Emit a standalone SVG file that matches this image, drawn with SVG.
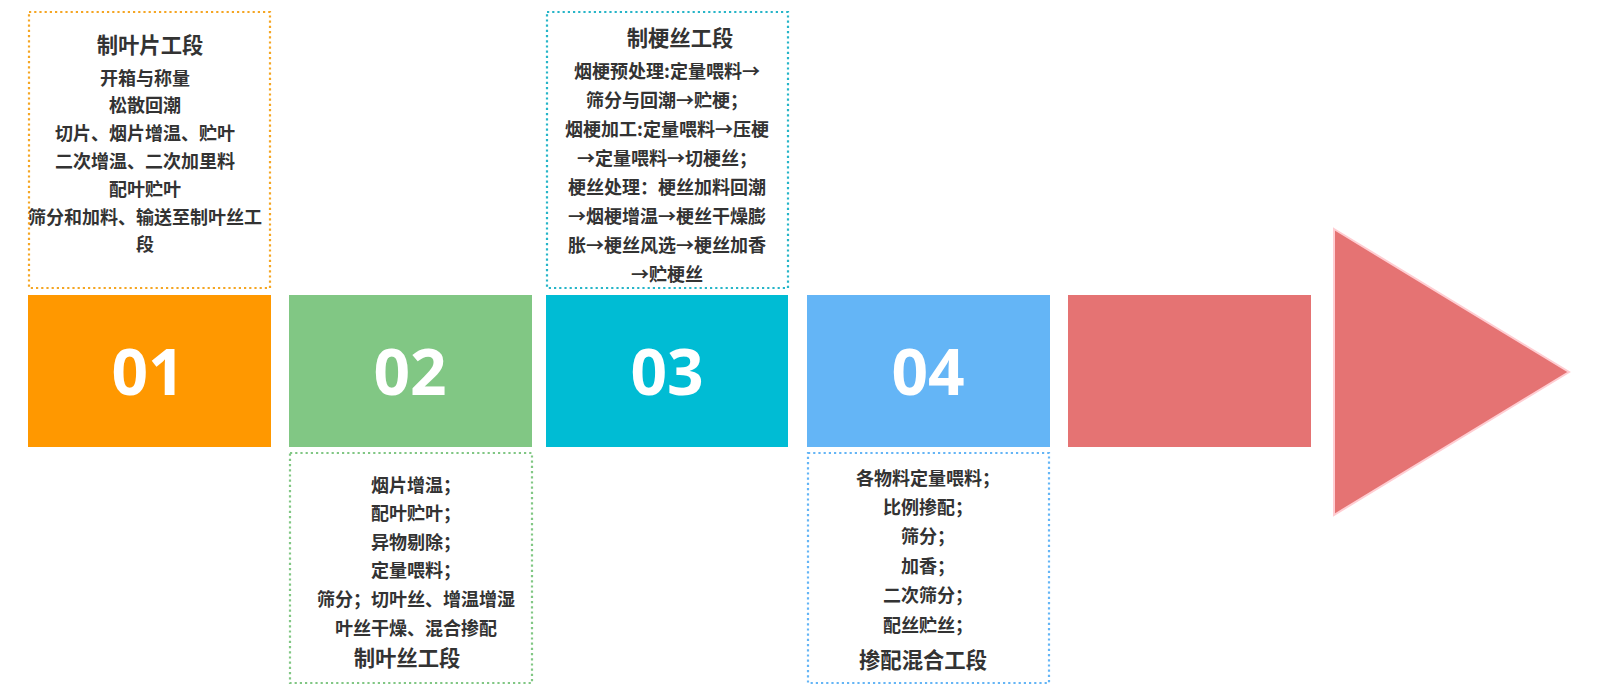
<svg xmlns="http://www.w3.org/2000/svg" width="1600" height="700" viewBox="0 0 1600 700">
<style>
.box{fill:none;stroke-width:2.2;stroke-dasharray:2.2 3}
.t{font-family:"Noto Sans CJK SC","Noto Sans",sans-serif;font-weight:bold;fill:#333;text-anchor:middle;font-size:18px}
.h{font-size:21.33px}
.num{font-family:"Open Sans","Liberation Sans",sans-serif;font-weight:bold;fill:#fff;text-anchor:middle;font-size:64px}
</style>
<rect width="1600" height="700" fill="#fff"/>
<g id="step1">
<rect x="28" y="295" width="243" height="152" fill="#FF9800"/>
<text class="num" x="148" y="395">01</text>
<rect class="box" x="29" y="12" width="241" height="276" stroke="#F5A623"/>
<text class="t h" x="150" y="53">制叶片工段</text>
<text class="t" x="145" y="84.5">开箱与称量</text>
<text class="t" x="145" y="112.3">松散回潮</text>
<text class="t" x="145" y="140.1">切片、烟片增温、贮叶</text>
<text class="t" x="145" y="167.9">二次增温、二次加里料</text>
<text class="t" x="145" y="195.7">配叶贮叶</text>
<text class="t" x="145" y="223.5">筛分和加料、输送至制叶丝工</text>
<text class="t" x="145" y="251.3">段</text>
</g>
<g id="step2">
<rect x="289" y="295" width="243" height="152" fill="#81C784"/>
<text class="num" x="410" y="395">02</text>
<rect class="box" x="290" y="453" width="242" height="230" stroke="#81C784"/>
<text class="t" x="416" y="491.5">烟片增温；</text>
<text class="t" x="416" y="520.1">配叶贮叶；</text>
<text class="t" x="416" y="548.7">异物剔除；</text>
<text class="t" x="416" y="577.3">定量喂料；</text>
<text class="t" x="416" y="605.9">筛分；切叶丝、增温增湿</text>
<text class="t" x="416" y="634.5">叶丝干燥、混合掺配</text>
<text class="t h" x="407" y="666">制叶丝工段</text>
</g>
<g id="step3">
<rect x="546" y="295" width="242" height="152" fill="#00BCD4"/>
<text class="num" x="667" y="395">03</text>
<rect class="box" x="547" y="12" width="241" height="276" stroke="#26B5C8"/>
<text class="t h" x="680" y="46">制梗丝工段</text>
<text class="t" x="667" y="78">烟梗预处理:定量喂料→</text>
<text class="t" x="667" y="107">筛分与回潮→贮梗；</text>
<text class="t" x="667" y="136">烟梗加工:定量喂料→压梗</text>
<text class="t" x="667" y="165">→定量喂料→切梗丝；</text>
<text class="t" x="667" y="194">梗丝处理：梗丝加料回潮</text>
<text class="t" x="667" y="223">→烟梗增温→梗丝干燥膨</text>
<text class="t" x="667" y="252">胀→梗丝风选→梗丝加香</text>
<text class="t" x="667" y="281">→贮梗丝</text>
</g>
<g id="step4">
<rect x="807" y="295" width="243" height="152" fill="#64B5F6"/>
<text class="num" x="928" y="395">04</text>
<rect class="box" x="808" y="453" width="241" height="230" stroke="#64B5F6"/>
<text class="t" x="928" y="484.5">各物料定量喂料；</text>
<text class="t" x="928" y="513.9">比例掺配；</text>
<text class="t" x="928" y="543.3">筛分；</text>
<text class="t" x="928" y="572.7">加香；</text>
<text class="t" x="928" y="602.1">二次筛分；</text>
<text class="t" x="928" y="631.5">配丝贮丝；</text>
<text class="t h" x="923" y="668">掺配混合工段</text>
</g>
<g id="arrow">
<rect x="1068" y="295" width="243" height="152" fill="#E57373"/>
<polygon points="1334,229 1569,372 1334,515" fill="#E57373" stroke="#FFCDD2" stroke-width="2"/>
</g>
<g id="connectors"></g>
</svg>
